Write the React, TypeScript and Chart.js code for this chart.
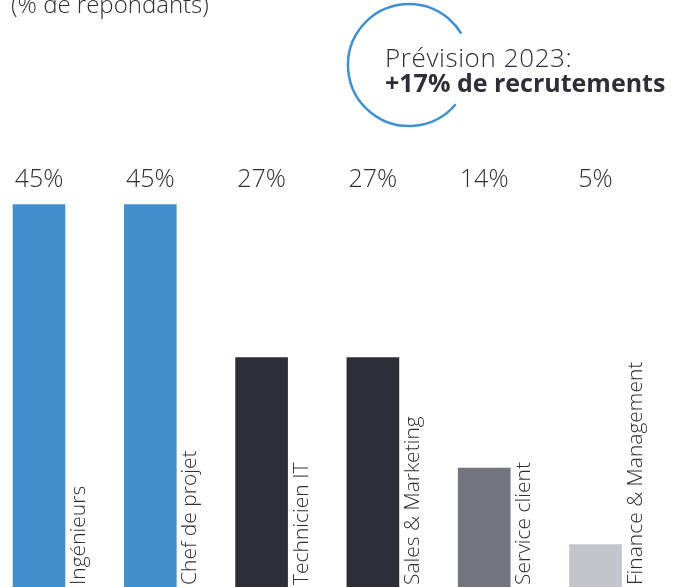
import React, { useEffect, useRef } from "react";
import Chart from "chart.js/auto";

const categories = [
  "Ingénieurs",
  "Chef de projet",
  "Technicien IT",
  "Sales & Marketing",
  "Service client",
  "Finance & Management",
];
const values = [45, 45, 27, 27, 14, 5];
const barColors = ["#4190cd", "#4190cd", "#2e2e38", "#2e2e38", "#747480", "#c4c4cd"];
const titleLine = "(% de répondants)";
const noteLine1 = "Prévision 2023:";
const noteLine2 = "+17% de recrutements";

const FONT = '"Open Sans", "Noto Sans", sans-serif';
const TEXT = "#2e2e38";

const labelsPlugin = {
  id: "customLabels",
  afterDatasetsDraw(chart: any) {
    const ctx = chart.ctx as CanvasRenderingContext2D;
    const meta = chart.getDatasetMeta(0);
    const bottom = chart.chartArea.bottom;
    const yScale = chart.scales.y;
    const maxVal = Math.max(...values);
    const labelY = yScale.getPixelForValue(maxVal) - 18;
    ctx.save();
    meta.data.forEach((bar: any, i: number) => {
      const props = bar.getProps(["x", "y", "width"], true);
      // value label (all in one row above the tallest bars)
      ctx.font = `300 25px ${FONT}`;
      ctx.fillStyle = TEXT;
      ctx.textAlign = "center";
      ctx.textBaseline = "alphabetic";
      ctx.fillText(`${values[i]}%`, props.x, labelY);
      // category label, rotated
      ctx.save();
      ctx.translate(props.x + props.width / 2 + 20, bottom - 2);
      ctx.rotate(-Math.PI / 2);
      ctx.font = `300 21px ${FONT}`;
      ctx.textAlign = "left";
      ctx.fillText(categories[i], 0, 0);
      ctx.restore();
    });
    // title (cut at top)
    ctx.font = `300 24px ${FONT}`;
    ctx.textAlign = "left";
    ctx.fillStyle = TEXT;
    ctx.fillText(titleLine, 11, 13);
    // circle
    ctx.beginPath();
    ctx.strokeStyle = "#4190cd";
    ctx.lineWidth = 2.5;
    const cx = 409, cy = 65, r = 61;
    ctx.arc(cx, cy, r, (40 * Math.PI) / 180, (-31 * Math.PI) / 180, false);
    ctx.stroke();
    // note text
    ctx.fillStyle = TEXT;
    (ctx as any).letterSpacing = "0.6px";
    ctx.font = `300 26px ${FONT}`;
    ctx.fillText(noteLine1, 385, 67);
    (ctx as any).letterSpacing = "0px";
    ctx.font = `700 25px ${FONT}`;
    ctx.fillText(noteLine2, 385, 92);
    ctx.restore();
  },
};

export default function App() {
  const ref = useRef<HTMLCanvasElement>(null);
  useEffect(() => {
    document.body.style.margin = "0";
    const chart = new Chart(ref.current!, {
      type: "bar",
      data: {
        labels: categories,
        datasets: [
          {
            data: values,
            backgroundColor: barColors,
            barThickness: 52,
            clip: false as any,
          },
        ],
      },
      options: {
        responsive: false,
        animation: false,
        layout: { padding: { left: 39, right: 88.5, top: 77, bottom: 0 } },
        plugins: { legend: { display: false }, tooltip: { enabled: false } },
        scales: {
          x: { display: false, offset: false, grid: { display: false } },
          y: { display: false, min: 0, max: 60 },
        },
      },
      plugins: [labelsPlugin],
    });
    return () => chart.destroy();
  }, []);
  return (
    <div style={{ width: 684, height: 587, background: "#fff" }}>
      <canvas ref={ref} width={684} height={587} style={{ display: "block" }} />
    </div>
  );
}
